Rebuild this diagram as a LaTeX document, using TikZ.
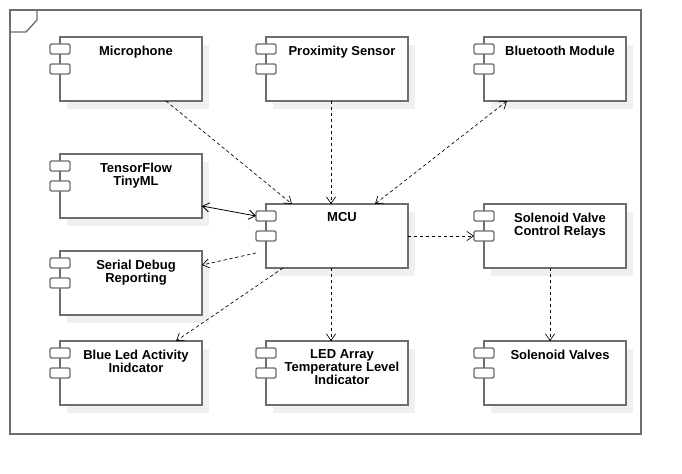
\documentclass[tikz,border=0pt]{standalone}
\usepackage{fontspec}
\setmainfont{Liberation Sans}
\usetikzlibrary{arrows.meta,calc}
\definecolor{bordergray}{HTML}{6E6E6E}
\definecolor{shadowgray}{HTML}{F0F0F0}
\tikzset{
  comp/.style={draw=bordergray,line width=1.1pt,fill=white,minimum width=106.5pt,minimum height=48pt,inner sep=0pt,outer sep=0pt,anchor=north west},
  port/.style={draw=bordergray,line width=1.1pt,fill=white,minimum width=15pt,minimum height=7.5pt,inner sep=0pt,outer sep=0pt,rounded corners=1pt},
  ctitle/.style={anchor=north,align=center,inner sep=0pt,font=\bfseries\fontsize{9.75pt}{9.75pt}\selectfont},
  dep/.style={draw=black,line width=0.5pt,dash pattern=on 2.5pt off 2pt,-{Straight Barb[length=5pt,width=7pt]}},
  bidep/.style={draw=black,line width=0.5pt,dash pattern=on 2.5pt off 2pt,{Straight Barb[length=5pt,width=7pt]}-{Straight Barb[length=5pt,width=7pt]}},
  biline/.style={draw=black,line width=0.6pt,{Straight Barb[length=5pt,width=7pt]}-{Straight Barb[length=5pt,width=7pt]}},
  frameline/.style={draw=bordergray,line width=1pt}
}
\newcommand\umlcomp[4]{%
  \fill[shadowgray] (#2+7,#3+8) rectangle (#2+149,#3+72);
  \node[comp] (#1) at (#2,#3) {};
  \node[port] (#1p1) at (#2,#3+12) {};
  \node[port] (#1p2) at (#2,#3+32) {};
  \node[ctitle] (#1t) at (#2+76,#3+8.5) {#4};
}
\begin{document}
\begin{tikzpicture}[x=0.75pt,y=-0.75pt]
\useasboundingbox (0,0) rectangle (682,474);
\fill[white] (0,0) rectangle (682,474);
% frame
\draw[frameline] (10,10) rectangle (641,434);
\draw[frameline] (37,10) -- (37,20) -- (26,32) -- (10,32);
% components
\umlcomp{mic}{60}{37}{Microphone}
\umlcomp{prox}{266}{37}{Proximity Sensor}
\umlcomp{bt}{484}{37}{Bluetooth Module}
\umlcomp{tf}{60}{154}{TensorFlow\\TinyML}
\umlcomp{mcu}{266}{204}{MCU}
\umlcomp{rel}{484}{204}{Solenoid Valve\\Control Relays}
\umlcomp{serial}{60}{251}{Serial Debug\\Reporting}
\umlcomp{blue}{60}{341}{Blue Led Activity\\Inidcator}
\umlcomp{led}{266}{341}{LED Array\\Temperature Level\\Indicator}
\umlcomp{valv}{484}{341}{Solenoid Valves}
% connectors
\draw[dep] ($(mic.south west)+(106,0)$) -- ($(mcu.north west)+(26,0)$);
\draw[dep] ($(prox.south west)+(65,0)$) -- ($(mcu.north west)+(65,0)$);
\draw[bidep] ($(bt.south west)+(23,0)$) -- ($(mcu.north west)+(109,0)$);
\draw[biline] ($(tf.north east)+(0,52)$) -- (mcup1.west);
\draw[dep] ($(mcu.south west)+(-10,-15)$) -- ($(serial.north east)+(0,14)$);
\draw[dep] ($(mcu.south west)+(17,0)$) -- ($(blue.north west)+(116,0)$);
\draw[dep] ($(mcu.south west)+(65,0)$) -- ($(led.north west)+(65,0)$);
\draw[dep] (mcu.east) -- (relp2.west);
\draw[dep] ($(rel.south west)+(66,0)$) -- ($(valv.north west)+(66,0)$);
\end{tikzpicture}
\end{document}
